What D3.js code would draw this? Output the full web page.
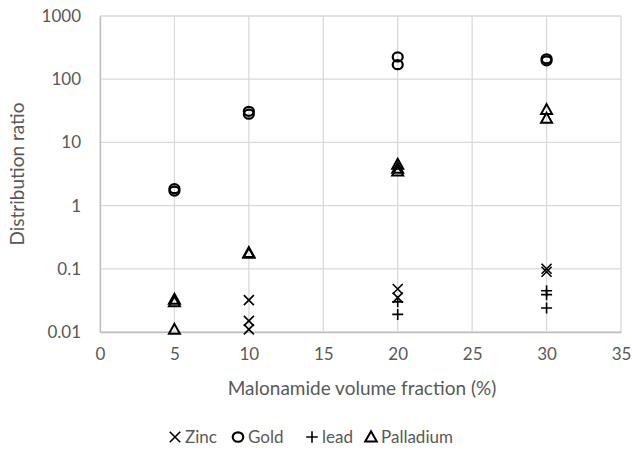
<!DOCTYPE html>
<html><head><meta charset="utf-8">
<script src="https://cdn.jsdelivr.net/npm/d3@7"></script>
<style>body{margin:0;background:#fff}text{font-family:Lato,"Open Sans",sans-serif}</style>
</head><body>
<svg id="c" width="632" height="454"></svg>
<script>
const xTicks = [0,5,10,15,20,25,30,35];
const yTicks = [0.01,0.1,1,10,100,1000];
const yTickLabels = ["0.01","0.1","1","10","100","1000"];
const seriesNames = ["Zinc","Gold","lead","Palladium"];
const zincX = [10,10,10,20,20,30,30];
const zincY = [0.032,0.015,0.011,0.048,0.035,0.10,0.09];
const goldX = [5,5,10,10,20,20,30,30];
const goldY = [1.85,1.7,31,28,225,170,210,195];
const leadX = [20,20,30,30,30];
const leadY = [0.03,0.019,0.045,0.039,0.024];
const pallX = [5,5,5,10,10,20,20,20,30,30];
const pallY = [0.033,0.030,0.011,0.18,0.175,4.5,3.9,3.5,33,24];

const svg = d3.select("#c");
const L=100,R=621,T=16,B=332;
const x = d3.scaleLinear().domain([0,35]).range([L,R]);
const y = d3.scaleLog().domain([0.01,1000]).range([B,T]);
const grey="#595959", grid="#d9d9d9";

// grid
svg.append("g").selectAll("line.h").data(yTicks).join("line")
  .attr("x1",L).attr("x2",R).attr("y1",d=>y(d)).attr("y2",d=>y(d))
  .attr("stroke",grid).attr("stroke-width",1.3);
svg.append("g").selectAll("line.v").data(xTicks).join("line")
  .attr("x1",d=>x(d)).attr("x2",d=>x(d)).attr("y1",T).attr("y2",B)
  .attr("stroke",grid).attr("stroke-width",1.3);
// axes
const gx = svg.append("g").attr("transform",`translate(0,${B})`)
  .call(d3.axisBottom(x).tickValues(xTicks).tickSize(0).tickPadding(16));
gx.select(".domain").attr("stroke","#bfbfbf").attr("stroke-width",1.3);
gx.selectAll("text").attr("fill",grey).attr("font-size",17);
const gy = svg.append("g").attr("transform",`translate(${L},0)`)
  .call(d3.axisLeft(y).tickValues(yTicks).tickFormat((d,i)=>yTickLabels[i]).tickSize(0).tickPadding(19));
gy.select(".domain").attr("stroke","#bfbfbf").attr("stroke-width",1.3);
gy.selectAll("text").attr("fill",grey).attr("font-size",17);

svg.append("text").attr("x",362).attr("y",395).attr("text-anchor","middle")
  .attr("fill",grey).attr("font-size",19).text("Malonamide volume fraction (%)");
svg.append("text").attr("transform",`translate(24,${(T+B)/2}) rotate(-90)`).attr("text-anchor","middle")
  .attr("fill",grey).attr("font-size",19).text("Distribution ratio");

// markers
function marker(g,type,cx,cy,s){
  s = s||1;
  if(type==="Zinc"){
    const h=5*s;
    g.append("path").attr("d",`M${cx-h},${cy-h}L${cx+h},${cy+h}M${cx-h},${cy+h}L${cx+h},${cy-h}`)
      .attr("stroke","#000").attr("stroke-width",1.6).attr("fill","none");
  } else if(type==="Gold"){
    g.append("ellipse").attr("cx",cx).attr("cy",cy).attr("rx",5*s).attr("ry",4.5*s)
      .attr("stroke","#000").attr("stroke-width",2.2).attr("fill","none");
  } else if(type==="lead"){
    const h=5.5*s;
    g.append("path").attr("d",`M${cx-h},${cy}L${cx+h},${cy}M${cx},${cy-h}L${cx},${cy+h}`)
      .attr("stroke","#000").attr("stroke-width",1.6).attr("fill","none");
  } else {
    const h=5.5*s;
    g.append("path").attr("d",`M${cx},${cy-h}L${cx+h},${cy+h*0.8}L${cx-h},${cy+h*0.8}Z`)
      .attr("stroke","#000").attr("stroke-width",2).attr("fill","none").attr("stroke-linejoin","miter");
  }
}
const pts = svg.append("g");
const sets = [["Zinc",zincX,zincY],["Gold",goldX,goldY],["lead",leadX,leadY],["Palladium",pallX,pallY]];
sets.forEach(([n,xs,ys])=>xs.forEach((v,i)=>marker(pts,n,x(v),y(ys[i]))));

// legend
const legX=[175,238,312,371];
const lg = svg.append("g");
seriesNames.forEach((n,i)=>{
  marker(lg,n,legX[i],437,1.05);
  lg.append("text").attr("x",legX[i]+10).attr("y",443).attr("fill",grey).attr("font-size",17).text(n);
});
</script>
</body></html>
